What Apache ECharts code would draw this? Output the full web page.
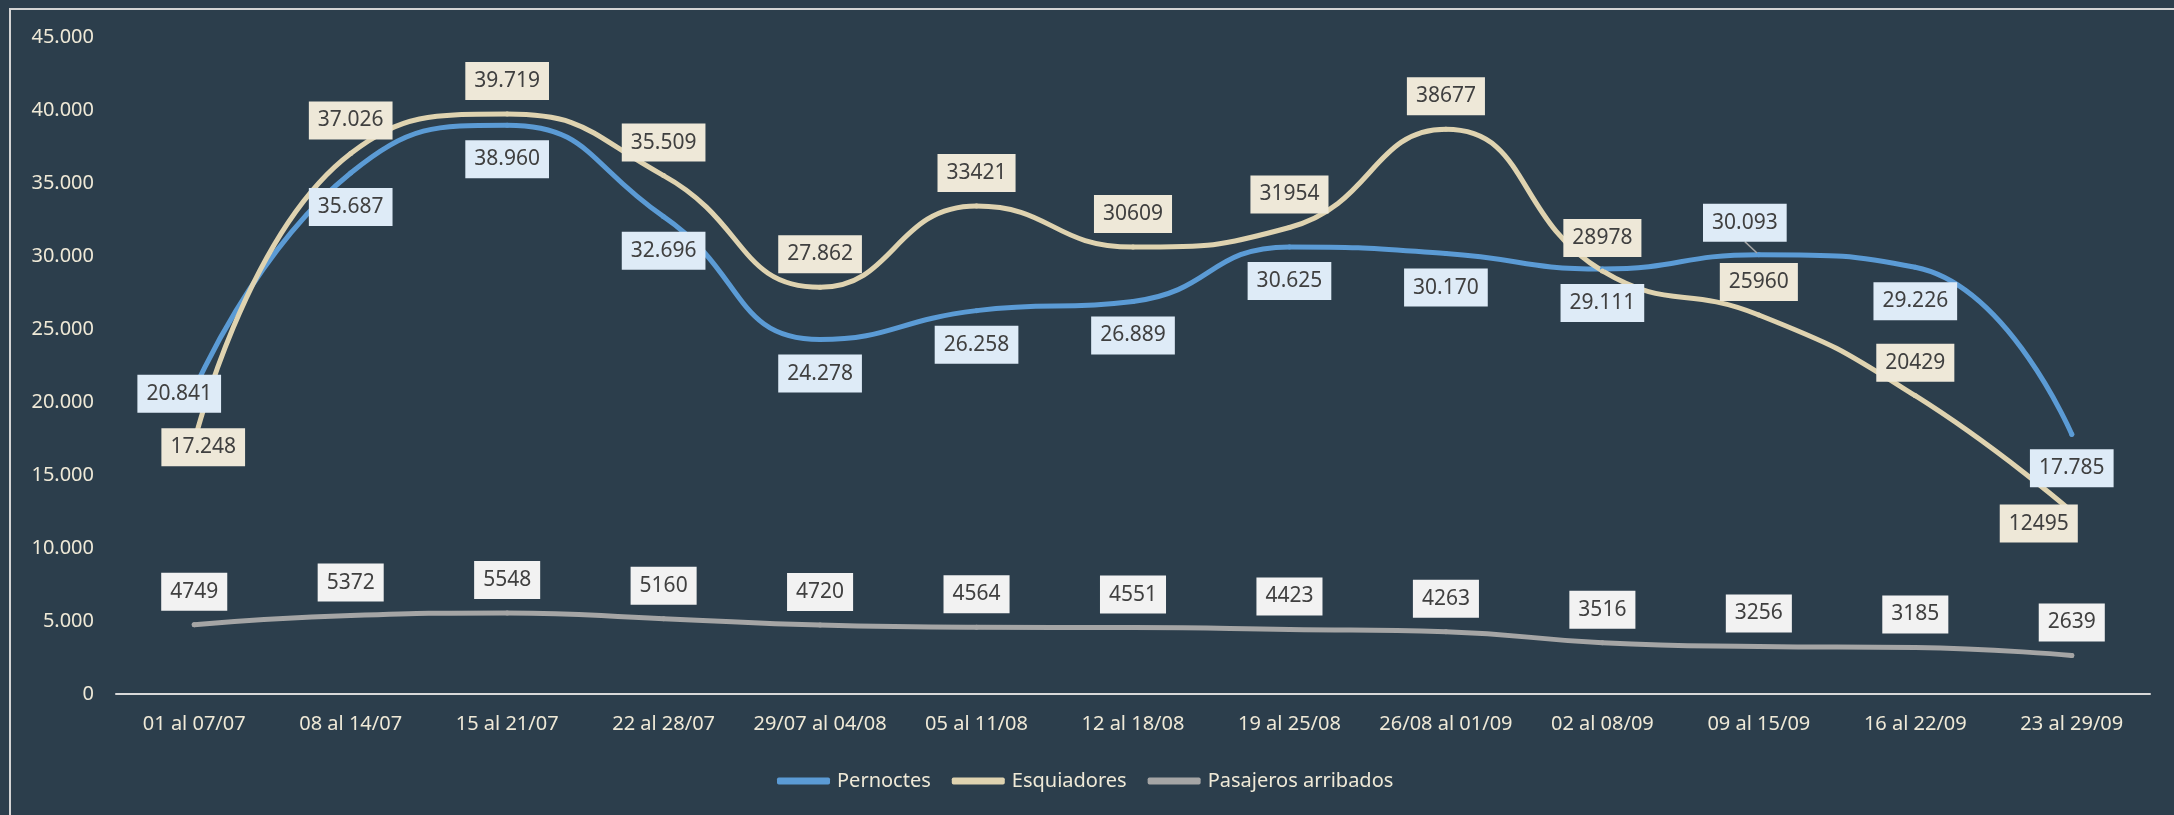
<!DOCTYPE html>
<html>
<head>
<meta charset="utf-8">
<script src="https://cdn.jsdelivr.net/npm/echarts@6/dist/echarts.min.js"></script>
<style>
  html, body { margin: 0; padding: 0; background: #2c3e4c; }
  #chart { width: 2174px; height: 815px; }
</style>
</head>
<body>
<div id="chart"></div>
<script>
// semanas (categorías del eje X)
const semanas = ['01 al 07/07', '08 al 14/07', '15 al 21/07', '22 al 28/07', '29/07 al 04/08', '05 al 11/08',
  '12 al 18/08', '19 al 25/08', '26/08 al 01/09', '02 al 08/09', '09 al 15/09', '16 al 22/09', '23 al 29/09']

const pernoctes = [20841, 35687, 38960, 32696, 24278, 26258, 26889, 30625, 30170, 29111, 30093, 29226, 17785]
const esquiadores = [17248, 37026, 39719, 35509, 27862, 33421, 30609, 31954, 38677, 28978, 25960, 20429, 12495]
const pasajeros = [4749, 5372, 5548, 5160, 4720, 4564, 4551, 4423, 4263, 3516, 3256, 3185, 2639]

const yTicks = [0, 5000, 10000, 15000, 20000, 25000, 30000, 35000, 40000, 45000]

// desplazamiento de las etiquetas respecto al punto (como en el Excel)
const UP = [0, -33]
const DOWN = [0, 34]
const pernoctesShift = [[-15, 4], DOWN, DOWN, DOWN, DOWN, DOWN, DOWN, DOWN, DOWN, DOWN, [-14, -32], DOWN, DOWN]
const esquiadoresShift = [[9, 5], UP, UP, UP, UP, UP, UP, UP, UP, UP, UP, UP, [-33, 12]]
const pasajerosShift = semanas.map(() => UP)

const withDots = v => String(v).replace(/\B(?=(\d{3})+(?!\d))/g, '.')

const chart = echarts.init(document.getElementById('chart'))

const labelBase = (bg) => ({
  show: true,
  position: 'inside',
  color: '#404040',
  fontFamily: 'Noto Sans',
  fontSize: 21,
  lineHeight: 24,
  backgroundColor: bg,
  padding: [7, 9]
})

const makeSeries = (name, values, color, labelBg, shift, fmt, leaderIdx) => ({
  name: name,
  type: 'line',
  smooth: 0.5,
  symbol: 'circle',
  symbolSize: 5,
  itemStyle: { color: color },
  lineStyle: { color: color, width: 5, cap: 'round', join: 'round' },
  emphasis: { disabled: true },
  label: { ...labelBase(labelBg), formatter: p => fmt(p.value, p.dataIndex) },
  labelLine: { show: false },
  labelLayout: p => ({ dx: shift[p.dataIndex][0], dy: shift[p.dataIndex][1] }),
  data: values.map((v, i) => i === leaderIdx
    ? { value: v, labelLine: { show: true, lineStyle: { color: '#a6a6a6', width: 1.5 } } }
    : v)
})

const option = {
  backgroundColor: '#2c3e4c',
  animation: false,
  grid: { left: 116, right: 24, top: 37, bottom: 121 },
  legend: {
    left: 772,
    top: 766,
    icon: 'roundRect',
    itemWidth: 53,
    itemHeight: 7,
    itemGap: 21,
    textStyle: { color: '#efe9d7', fontSize: 20, fontFamily: 'Noto Sans', padding: [0, 0, 0, 2] },
    data: ['Pernoctes', 'Esquiadores', 'Pasajeros arribados']
  },
  graphic: [{
    type: 'rect',
    shape: { x: 10, y: 9, width: 2300, height: 1000 },
    style: { fill: 'none', stroke: '#d4d4d4', lineWidth: 2 },
    silent: true
  }],
  xAxis: {
    type: 'category',
    data: semanas,
    axisLine: { lineStyle: { color: '#d9d9d9', width: 2 } },
    axisTick: { show: false },
    axisLabel: { color: '#efe9d7', fontSize: 20, fontFamily: 'Noto Sans', margin: 20, interval: 0 }
  },
  yAxis: {
    type: 'value',
    min: yTicks[0],
    max: yTicks[yTicks.length - 1],
    interval: yTicks[1] - yTicks[0],
    axisLine: { show: false },
    axisTick: { show: false },
    splitLine: { show: false },
    axisLabel: { color: '#efe9d7', fontSize: 20, fontFamily: 'Noto Sans', margin: 22, formatter: v => withDots(v) }
  },
  series: [
    makeSeries('Pernoctes', pernoctes, '#5b9bd5', '#deebf7', pernoctesShift, v => withDots(v), 10),
    // en el original solo las cinco primeras llevan punto de millares
    makeSeries('Esquiadores', esquiadores, '#dfd3b0', '#eee8d8', esquiadoresShift, (v, i) => i < 5 ? withDots(v) : String(v), -1),
    makeSeries('Pasajeros arribados', pasajeros, '#a5a5a5', '#f2f2f2', pasajerosShift, v => String(v), -1)
  ]
}

chart.setOption(option)
</script>
</body>
</html>
